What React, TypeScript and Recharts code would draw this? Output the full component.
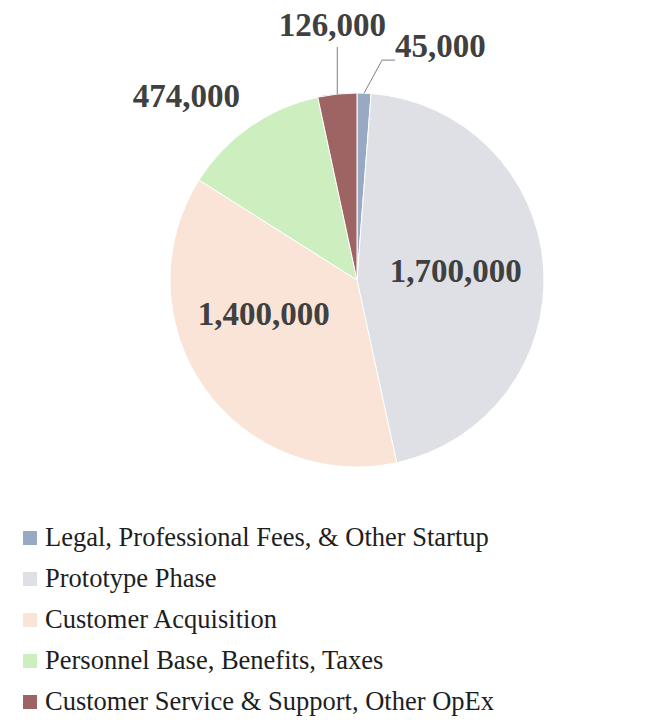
import React from 'react'
import { PieChart, Pie, Cell, Legend } from 'recharts'

const categories = [
  'Legal, Professional Fees, & Other Startup',
  'Prototype Phase',
  'Customer Acquisition',
  'Personnel Base, Benefits, Taxes',
  'Customer Service & Support, Other OpEx',
]
const amounts = [45000, 1700000, 1400000, 474000, 126000]
const colors = ['#98A9C3', '#DFE0E5', '#F9E4D7', '#CDEFC0', '#9E6464']

const data = categories.map((name, i) => ({ name, value: amounts[i] }))

const FONT = '"Liberation Serif", "DejaVu Serif", serif'
const LABEL_COLOR = '#404040'
const RAD = Math.PI / 180

function renderLabel(props: any) {
  const { cx, cy, outerRadius, midAngle, index, value } = props
  const text = value.toLocaleString('en-US')
  const common = {
    fill: LABEL_COLOR,
    fontFamily: FONT,
    fontWeight: 700,
    fontSize: 33,
    dominantBaseline: 'central' as const,
  }
  const at = (ang: number, r: number) => ({
    x: cx + r * Math.cos(-ang * RAD),
    y: cy + r * Math.sin(-ang * RAD),
  })

  if (index === 1 || index === 2) {
    const shift = index === 1 ? 1 : -15
    const p = at(midAngle + shift, outerRadius * 0.53)
    return <text {...common} x={p.x} y={p.y} textAnchor="middle">{text}</text>
  }
  if (index === 3) {
    const p = at(midAngle + 8, outerRadius * 1.34)
    return <text {...common} x={p.x} y={p.y} textAnchor="middle">{text}</text>
  }
  const edge = at(midAngle, outerRadius)
  if (index === 4) {
    const top = edge.y - 47
    return (
      <g>
        <line x1={edge.x} y1={edge.y} x2={edge.x} y2={top} stroke="#7f7f7f" strokeWidth={1} />
        <text {...common} x={edge.x - 5} y={top - 22} textAnchor="middle">{text}</text>
      </g>
    )
  }
  // index 0
  const bend = { x: edge.x + 18, y: edge.y - 33 }
  return (
    <g>
      <polyline
        points={`${edge.x},${edge.y} ${bend.x},${bend.y} ${bend.x + 13},${bend.y}`}
        fill="none"
        stroke="#7f7f7f"
        strokeWidth={1}
      />
      <text {...common} x={bend.x + 13} y={bend.y - 14} textAnchor="start">{text}</text>
    </g>
  )
}

function LegendList() {
  return (
    <div style={{ paddingLeft: 23 }}>
      {categories.map((name, i) => (
        <div
          key={name}
          style={{
            display: 'flex',
            alignItems: 'center',
            height: 41,
            fontFamily: FONT,
            fontSize: 26.5,
            color: '#1e1e1e',
            whiteSpace: 'nowrap',
          }}
        >
          <span
            style={{
              width: 14,
              height: 14,
              background: colors[i],
              marginRight: 8,
              display: 'inline-block',
              flex: 'none',
            }}
          />
          {name}
        </div>
      ))}
    </div>
  )
}

export default function App() {
  return (
    <div style={{ position: 'absolute', left: 0, top: 0, background: '#fff' }}>
      <PieChart width={653} height={720} margin={{ top: 0, right: 0, bottom: 0, left: 0 }}>
        <Pie
          data={data}
          dataKey="value"
          nameKey="name"
          cx={357}
          cy={280}
          outerRadius={187}
          startAngle={90}
          endAngle={-270}
          stroke="#fff"
          strokeWidth={1}
          label={renderLabel}
          labelLine={false}
          isAnimationActive={false}
        >
          {data.map((d, i) => (
            <Cell key={d.name} fill={colors[i]} />
          ))}
        </Pie>
        <Legend
          layout="horizontal"
          verticalAlign="bottom"
          align="left"
          wrapperStyle={{ top: 517, left: 0, width: 653 }}
          content={() => <LegendList />}
        />
      </PieChart>
    </div>
  )
}
